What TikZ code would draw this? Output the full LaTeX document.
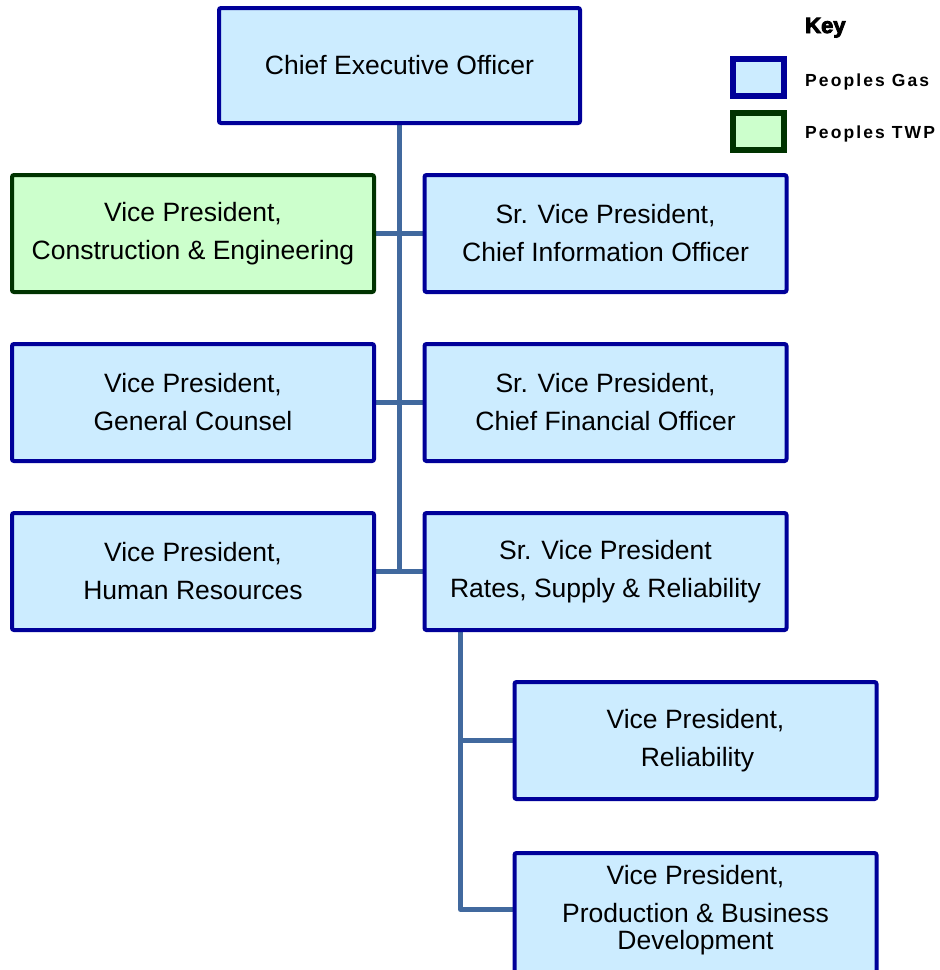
\documentclass[tikz,border=0pt]{standalone}
\usepackage{fontspec}
\setmainfont{Liberation Sans}
\usetikzlibrary{backgrounds}

\definecolor{pgborder}{HTML}{000099}
\definecolor{pgfill}{HTML}{CCECFF}
\definecolor{twpborder}{HTML}{003300}
\definecolor{twpfill}{HTML}{CCFFCC}
\definecolor{linkblue}{HTML}{41699E}

\newfontfamily\keyheavy[FakeBold=4]{Liberation Sans Bold}

\tikzset{
  orgbox/.style={draw=pgborder, fill=pgfill, line width=4pt, rounded corners=2pt,
    minimum width=362pt, minimum height=117pt, align=center, inner sep=0pt,
    font=\fontsize{26.5}{38}\selectfont},
  twpbox/.style={orgbox, draw=twpborder, fill=twpfill},
  orgtext/.style={align=center, inner sep=0pt, font=\fontsize{26.5}{38}\selectfont},
  conn/.style={draw=linkblue, line width=5pt, line join=round},
  keybox/.style={draw=pgborder, fill=pgfill, line width=6pt,
    minimum width=51pt, minimum height=37pt, inner sep=0pt},
  keytwp/.style={keybox, draw=twpborder, fill=twpfill},
  keylabel/.style={anchor=base west, inner sep=0pt,
    font=\fontsize{17.5}{20}\selectfont\bfseries\addfontfeature{LetterSpace=12}},
  keytitle/.style={anchor=base west, inner sep=0pt,
    font=\fontsize{22}{24}\keyheavy\selectfont},
}

\begin{document}
\begin{tikzpicture}[x=1pt, y=-1pt]
  \useasboundingbox (0,0) rectangle (940,970);
  \clip (0,0) rectangle (940,970);

  % executive
  \node[orgbox, minimum width=361pt, minimum height=115pt] (ceo) at (399.5,65.5)
    {Chief Executive Officer};

  % direct reports
  \node[twpbox] (vpce) at (193,233.5) {Vice President,\\Construction \& Engineering};
  \node[orgbox] (cio)  at (605.5,233.5) {Sr. Vice President,\\Chief Information Officer};
  \node[orgbox] (gc)   at (193,402.5) {Vice President,\\General Counsel};
  \node[orgbox] (cfo)  at (605.5,402.5) {Sr. Vice President,\\Chief Financial Officer};
  \node[orgbox] (hr)   at (193,571.5) {Vice President,\\Human Resources};
  \node[orgbox] (rsr)  at (605.5,571.5) {Sr. Vice President\\Rates, Supply \& Reliability};

  % rates, supply & reliability reports
  \node[orgbox] (rel) at (695.5,740.5) {Vice President,\\\hspace*{4pt}Reliability};
  \node[orgbox, minimum height=133pt, anchor=north] (pbd) at (695.5,851) {};
  \node[orgtext] (pbdtext) at (695.5,910.5)
    {Vice President,\\Production \& Business\\[-11pt]Development};

  % connectors
  \begin{scope}[on background layer]
    \draw[conn, line cap=rect] (ceo.south) -- (ceo.south |- hr.east);
    \draw[conn] (vpce) -- (cio);
    \draw[conn] (gc) -- (cfo);
    \draw[conn] (hr) -- (rsr);
    \coordinate (tap) at ([xshift=38pt]rsr.south west);
    \draw[conn] (tap) |- (rel.west);
    \draw[conn] (tap) |- ([yshift=1pt]pbdtext.west);
  \end{scope}

  % key
  \node[keytitle] (keyttl) at (805,33) {Key};
  \node[keybox] (keypg) at (758.5,77.5) {};
  \node[keytwp] (keytw) at (758.5,131.5) {};
  \node[keylabel] (keypgt) at (805,86) {Peoples Gas};
  \node[keylabel] (keytwt) at (805,138) {Peoples TWP};
\end{tikzpicture}
\end{document}
